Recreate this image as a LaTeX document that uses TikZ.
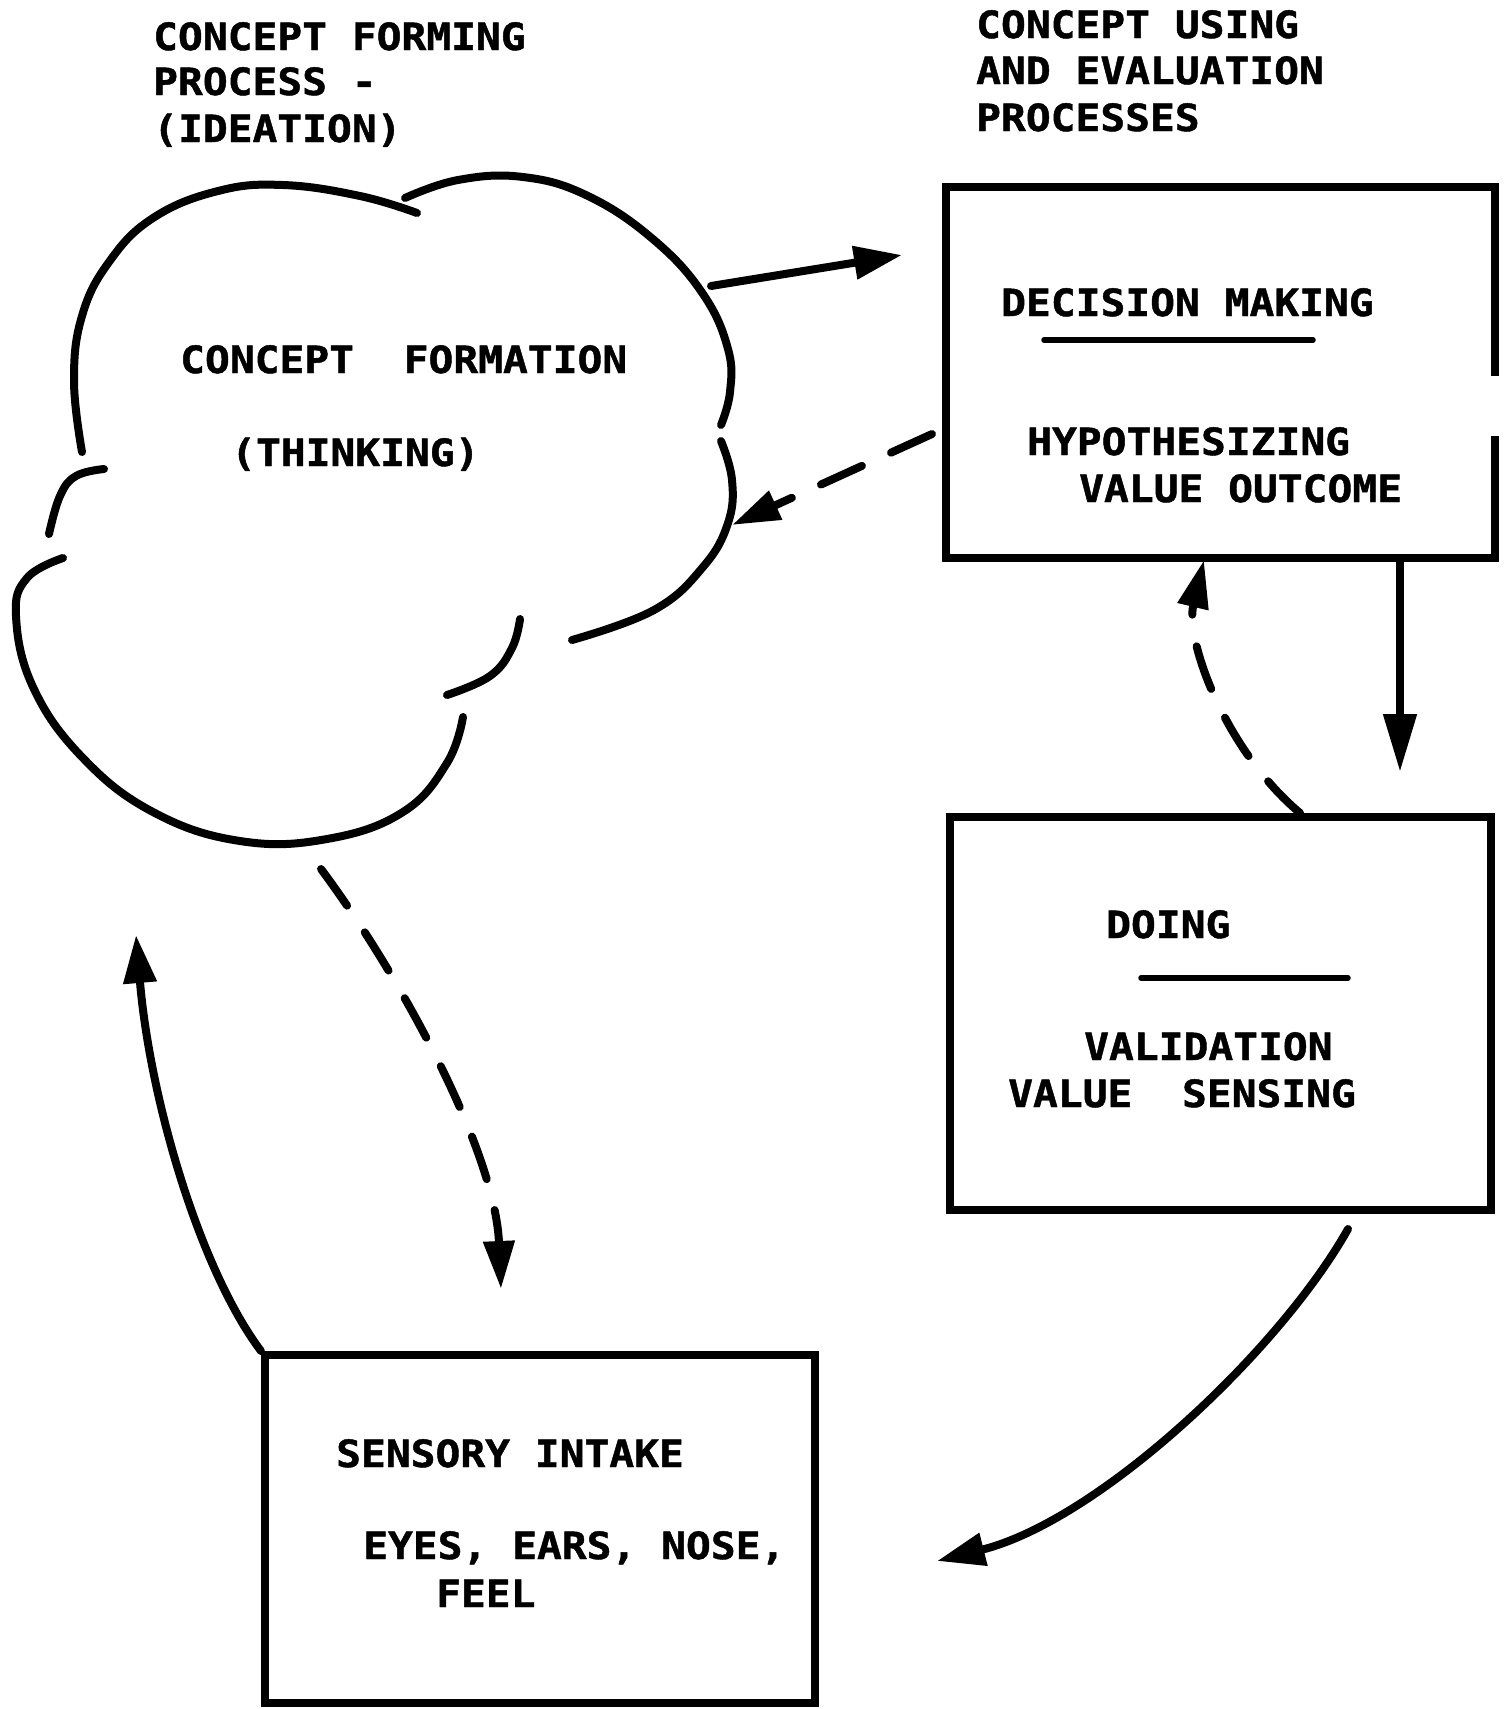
\documentclass[tikz,border=0pt]{standalone}
\usepackage{fontspec}
\newfontfamily\typer{DejaVu Sans Mono}[FakeStretch=1.1, BoldFeatures={FakeBold=1.2}]
\usetikzlibrary{arrows.meta,calc}
\begin{document}
\begin{tikzpicture}[x=1pt,y=-1pt,
  lbl/.style={anchor=base west, inner sep=0pt, font=\typer\bfseries\fontsize{37.5}{40}\selectfont},
  ink/.style={line width=8pt, line cap=round, line join=round},
  boxshape/.style={rectangle, inner sep=0pt, draw=none},
  solidarrow/.style={ink, -{Triangle[length=48pt, width=32pt]}},
  dasharrow/.style={ink, dash pattern=on 45pt off 32pt, -{Triangle[length=48pt, width=30pt]}},
  rule/.style={line width=5.5pt, line cap=round}]
\useasboundingbox (0,0) rectangle (1505,1709);
\fill[white] (0,0) rectangle (1505,1709);

% headings
\node[lbl] (h1) at (153,50) {CONCEPT FORMING};
\node[lbl] (h2) at (153,95) {PROCESS -};
\node[lbl] (h3) at (153,142) {(IDEATION)};
\node[lbl] (h4) at (976,38) {CONCEPT USING};
\node[lbl] (h5) at (976,84) {AND EVALUATION};
\node[lbl] (h6) at (976,131) {PROCESSES};

% the thinking cloud, drawn as separate hand-drawn lobes
\draw[ink] plot[smooth, tension=0.7] coordinates {(82,452) (74,381) (82,316) (109,262) (153,218) (218,191) (283,185) (360,196) (417,213)};
\draw[ink] plot[smooth, tension=0.7] coordinates {(405,198) (458,180) (523,177) (588,196) (654,240) (703,294) (728,349) (730,392) (721,425)};
\draw[ink] plot[smooth, tension=0.7] coordinates {(721,441) (732,480) (728,523) (703,567) (654,610) (572,640)};
\draw[ink] plot[smooth, tension=0.7] coordinates {(520,619) (512,648) (490,676) (447,695)};
\draw[ink] plot[smooth, tension=0.7] coordinates {(463,717) (447,763) (403,812) (327,839) (240,841) (153,812) (82,757) (33,687) (16,616) (27,578) (63,558)};
\draw[ink] plot[smooth, tension=0.7] coordinates {(49,534) (60,496) (76,476) (104,469)};
\node[lbl] (cf1) at (180,373) {CONCEPT~~FORMATION};
\node[lbl] (cf2) at (231,466) {(THINKING)};

% decision making box (right side left open in the middle)
\node[boxshape, minimum width=549pt, minimum height=371pt] (dm) at (1220.5,372.5) {};
\draw[ink, line cap=butt, line join=miter] ($(dm.south east)+(0,-122)$) -- (dm.south east) -- (dm.south west) -- (dm.north west) -- (dm.north east) -- ($(dm.north east)+(0,189)$);
\node[lbl] (dm1) at (1001,316) {DECISION MAKING};
\draw[rule] (1044,340) -- (1313,340);
\node[lbl] (dm2) at (1027,455) {HYPOTHESIZING};
\node[lbl] (dm3) at (1079,502) {VALUE OUTCOME};

% doing box
\node[boxshape, draw, line width=8pt, minimum width=541pt, minimum height=393pt] (doing) at (1220.5,1013.5) {};
\node[lbl] (do1) at (1106,938) {DOING};
\draw[rule] (1141,978) -- (1348,978);
\node[lbl] (do2) at (1084,1060) {VALIDATION};
\node[lbl] (do3) at (1008,1107) {VALUE~~SENSING};

% sensory intake box
\node[boxshape, draw, line width=8pt, minimum width=550pt, minimum height=348pt] (si) at (540,1529) {};
\node[lbl] (si1) at (336,1467) {SENSORY INTAKE};
\node[lbl] (si2) at (363,1559) {EYES, EARS, NOSE,};
\node[lbl] (si3) at (436,1607) {FEEL};

% connector end points
\coordinate (cloudE) at (711,286);
\coordinate (dmW) at (902,255);
\coordinate (dmWb) at (932,434);
\coordinate (cloudEb) at (732,525);
\coordinate (dmS) at (1400,558);
\coordinate (doingN) at (1400,772);
\coordinate (doingNb) at (1300,813);
\coordinate (dmSb) at (1204,560);
\coordinate (cloudS) at (321,869);
\coordinate (siN) at (501,1289);
\coordinate (cloudSW) at (136,935);
\coordinate (doingS) at (1348,1229);
\coordinate (siE) at (937,1561);

% connectors
\draw[solidarrow] (cloudE) -- (dmW);
\draw[dasharrow] (dmWb) -- (cloudEb);
\draw[solidarrow, -{Triangle[length=58pt, width=32pt]}] (dmS) -- (doingN);
\draw[dasharrow] (doingNb) .. controls (1225,750) and (1185,640) .. (dmSb);
\draw[dasharrow] (cloudS) .. controls (400,975) and (495,1150) .. (siN);
\draw[solidarrow] (si.north west) .. controls (200,1270) and (150,1100) .. (cloudSW);
\draw[solidarrow] (doingS) .. controls (1280,1350) and (1100,1520) .. (siE);
\end{tikzpicture}
\end{document}
